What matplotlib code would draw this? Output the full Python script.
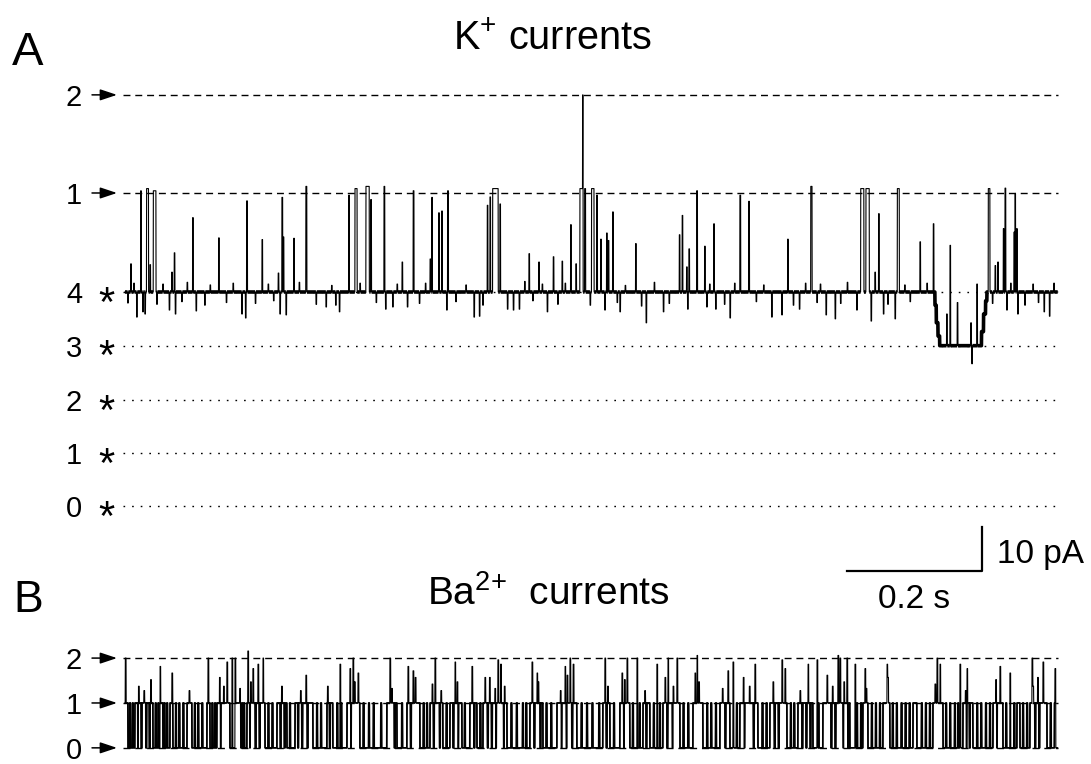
import numpy as np
import matplotlib
matplotlib.use("Agg")
import matplotlib.pyplot as plt

plt.rcParams['font.family'] = ['Liberation Sans', 'DejaVu Sans']
plt.rcParams['mathtext.fontset'] = 'custom'
plt.rcParams['mathtext.rm'] = 'Liberation Sans'
plt.rcParams['mathtext.it'] = 'Liberation Sans:italic'
plt.rcParams['mathtext.bf'] = 'Liberation Sans:bold'

# ─────────────────────────────────────────────
#  DATA  (time in ms, current in pA)
# ─────────────────────────────────────────────
T_END = 1382.0

# Panel A: K+ trace, baseline = level "4 *"
A_DASH_LEVELS = [44.8, 22.5]
A_DASH_LABELS = ["2", "1"]
A_DOT_LEVELS = [0.0, -12.2, -24.5, -36.6, -48.6]
A_DOT_LABELS = ["4", "3", "2", "1", "0"]

# sub-level (loss of one channel) near the end
A_SUB_T   = [1200.0, 1202.0, 1204.5, 1207.0, 1269.0, 1272.0, 1275.0]
A_SUB_DUR = [2.0, 2.5, 2.5, 62.0, 3.0, 3.0, 2.0]
A_SUB_AMP = [-3.0, -7.0, -10.0, -12.2, -9.0, -5.0, -2.0]

# openings (start, duration, amplitude)
A_OPEN_T = [8.4, 23.3, 32.1, 37.0, 41.9, 69.2, 73.0, 100.3, 138.8, 180.3,
            203.0, 227.1, 232.6, 234.5, 249.9, 268.1, 331.4, 340.7, 357.0, 364.0,
            383.7, 410.4, 427.1, 451.9, 454.4, 464.8, 469.2, 478.1, 536.7, 540.7,
            544.7, 555.6, 598.5, 612.9, 634.5, 647.4, 660.3, 668.1, 674.1, 678.0,
            681.0, 691.3, 698.8, 704.7, 713.6, 716.0, 722.5, 756.6, 821.2, 825.6,
            832.1, 835.6, 847.0, 858.8, 872.2, 911.1, 924.0, 981.8, 1015.9, 1089.9,
            1097.8, 1111.1, 1116.6, 1144.2, 1177.8, 1197.5, 1217.3, 1222.2, 1252.9, 1278.9,
            1288.9, 1292.9, 1301.2, 1303.7, 1317.0, 1318.5, 1321.0]
A_OPEN_DUR = [1, 1, 3.0, 1, 4.0, 1, 1, 1, 1, 1.2,
              1, 1, 1.2, 1, 1, 1.5, 1.2, 3.4, 4.9, 1.2,
              1.2, 1, 1.2, 1, 1.2, 1, 1, 1.2, 1, 1,
              8.3, 1, 1, 1, 1, 1, 1, 1, 4.4, 0.8,
              1.5, 3.8, 1.2, 1, 1, 1, 1, 1, 1, 1,
              1, 1, 1.2, 1, 1, 1.2, 1.2, 1, 2.0, 4.9,
              4.9, 1, 1, 3.0, 1, 1, 1, 1, 1, 2.5,
              1, 1, 1, 1.2, 1, 1, 1]
A_OPEN_AMP = [6.4, 23.0, 23.5, 6.2, 23.0, 4.5, 8.9, 16.9, 12.3, 20.7,
              11.9, 4.3, 21.5, 12.5, 12.2, 24.0, 22.0, 23.5, 24.0, 21.0,
              24.0, 6.8, 23.0, 7.5, 21.5, 18.0, 18.4, 23.0, 19.7, 21.6,
              23.5, 20.0, 8.7, 6.8, 8.0, 7.0, 15.3, 6.4, 23.5, 44.8,
              23.5, 23.5, 22.0, 12.0, 13.4, 11.7, 18.2, 11.0, 13.0, 17.4,
              5.7, 9.8, 23.0, 10.4, 15.5, 22.0, 20.6, 12.0, 24.0, 23.5,
              23.5, 4.5, 17.8, 23.5, 11.4, 15.5, -5.0, 10.6, -7.0, 23.5,
              6.0, 6.8, 14.4, 23.6, 13.6, 22.4, 14.4]

# brief downward deflections
A_DIP_T = [17.3, 26.2, 29.6, 65.6, 74.5, 105.2, 172.9, 178.5, 229.6, 238.5,
           297.8, 317.5, 386.0, 396.6, 418.2, 476.5, 517.0, 524.9, 566.4, 575.3,
           584.1, 625.6, 688.9, 710.7, 733.3, 771.9, 797.5, 833.5, 861.8, 875.1,
           896.3, 958.1, 972.9, 999.0, 1038.5, 1051.9, 1084.0, 1105.2, 1123.4, 1140.7,
           1254.4, 1306.2, 1322.5, 1361.5, 1369.4]
A_DIP_AMP = [-5.7, -4.5, -5.0, -4.1, -5.0, -4.3, -5.0, -5.9, -5.0, -5.2,
             -3.4, -4.5, -3.9, -3.4, -3.4, -4.1, -5.7, -5.5, -3.9, -4.1,
             -3.9, -4.5, -3.0, -4.1, -4.5, -7.0, -4.5, -3.9, -3.4, -3.9,
             -5.9, -5.7, -5.2, -3.9, -5.2, -6.1, -4.1, -6.6, -5.0, -6.1,
             -16.3, -4.1, -5.0, -4.5, -5.5]

# small baseline wiggles
A_WIG_T = [4, 13, 47, 56, 84, 92, 118, 126, 150, 160, 193, 212, 220, 258, 283, 306,
           312, 348, 372, 403, 436, 445, 490, 505, 530, 592, 604, 618, 641, 652, 729,
           741, 765, 784, 806, 866, 888, 903, 935, 946, 990, 1008, 1025, 1030, 1060,
           1070, 1130, 1155, 1163, 1188, 1233, 1262, 1285, 1312, 1333, 1345, 1353, 1376]
A_WIG_AMP = [-2.5, 2.0, -2.8, 1.8, -2.2, 2.2, -3.0, 1.6, -2.4, 2.0, -2.6, 1.8, -2.0,
             2.2, -2.8, 1.5, -3.0, 2.0, -2.4, 1.8, -2.6, 2.0, -2.2, 1.6, -3.0, 2.4,
             -2.0, 1.8, -2.8, 2.0, -2.4, 1.5, -3.2, 2.2, -2.6, 1.8, -2.8, 2.0, -2.2,
             1.6, -3.0, 2.0, -2.4, 1.8, -2.6, 2.2, -2.8, 1.6, -2.2, 2.0, -2.4, 1.8,
             -2.6, 2.0, -3.0, 1.8, -2.4, 2.0]

# Panel B: Ba2+ trace
B_UNIT = 10.2
B_LEVELS = [2, 1, 0]
B_LABELS = ["2", "1", "0"]
B_OPEN_START = [0, 14.8, 51.9, 66.7, 91.9, 121.5, 136.3, 163.0, 180.7, 225.2,
                251.9, 299.3, 328.9, 388.1, 417.8, 451.9, 481.5, 511.1, 530.4, 600.0,
                640.0, 708.1, 733.3, 767.4, 797.0, 841.5, 881.5, 911.1, 955.6, 997.0,
                1034.1, 1093.3, 1123.0, 1167.4, 1197.0, 1241.5, 1285.9, 1321.5, 1340.7]
B_OPEN_END = [4.4, 41.5, 56.3, 71.1, 99.3, 125.9, 155.6, 170.4, 207.4, 240.0,
              278.5, 308.1, 348.1, 403.0, 437.0, 471.1, 499.3, 521.5, 565.9, 619.3,
              669.6, 718.5, 748.1, 777.8, 822.2, 856.3, 896.3, 937.8, 980.7, 1019.3,
              1074.1, 1100.7, 1133.3, 1173.3, 1211.9, 1256.3, 1300.7, 1325.9, 1365.9]
# brief flickers (open -> closed or closed -> open)
B_FLICK = [7, 11, 19, 24, 31, 36, 45, 49, 58, 62, 75, 80, 86, 103, 108, 114, 129, 133,
           141, 146, 151, 173, 176, 185, 193, 199, 212, 218, 230, 236, 244, 256, 262,
           270, 284, 290, 303, 314, 320, 334, 340, 353, 361, 368, 379, 395, 399, 410,
           423, 430, 442, 447, 457, 466, 476, 486, 493, 503, 517, 526, 537, 543, 549,
           561, 572, 580, 589, 594, 606, 615, 624, 631, 646, 654, 662, 676, 684, 692,
           702, 713, 724, 739, 752, 762, 772, 783, 792, 803, 811, 827, 834, 850, 862,
           868, 875, 889, 906, 917, 925, 931, 944, 950, 962, 968, 986, 991, 1003, 1009,
           1015, 1027, 1040, 1046, 1052, 1064, 1071, 1084, 1090, 1106, 1112, 1118, 1137,
           1143, 1150, 1156, 1162, 1180, 1186, 1192, 1203, 1216, 1222, 1229, 1234, 1246,
           1251, 1262, 1268, 1275, 1281, 1291, 1305, 1311, 1317, 1330, 1336, 1348, 1354,
           1360, 1371, 1377]
B_FLICK_DUR = 1.2
# double openings (level 2)
B_DOUBLE_T = [0.5, 51.9, 69.6, 123, 151, 158.5, 163, 182, 189.6, 197, 204.4, 318.5,
              333.3, 337.8, 345.2, 392.6, 419.3, 426.7, 459.3, 488.9, 514, 533.3, 552.6,
              556.5, 603, 610.4, 651.9, 659.3, 664, 711.1, 736.3, 743.7, 758.5, 788.1,
              804.4, 817.8, 844.4, 847.4, 893.3, 900.7, 933.3, 973.3, 977.8, 1011.9,
              1025.2, 1056.3, 1059.3, 1069.6, 1081.5, 1096.3, 1128.9, 1203, 1207.4, 1237,
              1247.4, 1296.3, 1311.1, 1343.7, 1360, 1377.8]
B_DOUBLE_AMP = [20.4, 18.5, 17, 20.4, 19.5, 20.4, 20.4, 22, 18, 19, 20.4, 19,
                18, 20.4, 17, 20.4, 18.5, 17.5, 20.4, 19.5, 18.5, 16, 20,
                19, 19.5, 17, 18.5, 20.4, 19, 20.4, 17, 20.4, 20.4, 19,
                20.4, 20.4, 17, 21, 17.5, 19.5, 19, 20, 18, 19,
                20, 21, 20.4, 20.4, 19, 18, 19, 20.4, 19, 19,
                18, 18.5, 17, 20.4, 19.5, 18]
# partial openings above level 1
B_PART_T = [20, 28, 38, 95, 140, 146, 170, 186, 232, 260, 268, 300, 340, 395, 430,
            455, 468, 492, 540, 548, 562, 612, 645, 655, 715, 740, 770, 800, 812,
            850, 885, 916, 925, 960, 1000, 1040, 1048, 1065, 1098, 1130, 1200, 1245,
            1290, 1345, 1352]
B_PART_AMP = [14, 13, 15.5, 13, 16, 14, 13.5, 15, 14, 13, 16.5, 14, 15, 13.5, 16,
              14.5, 13, 15, 16, 13.5, 14, 15, 13, 16.5, 14, 15.5, 13, 16, 14,
              15, 13.5, 16, 14, 15, 13, 16.5, 14, 15, 13.5, 16, 14.5, 13,
              15.5, 14, 16]
B_SPIKE_DUR = 1.2

# scale bar
SCALE_T_MS = 200
SCALE_I_PA = 10

# ─────────────────────────────────────────────
#  LAYOUT (data coords of one axes over the figure)
# ─────────────────────────────────────────────
B_BASE = -103.6          # B trace offset
LBL_X = -63.7            # right edge of level numbers
ARR_X0, ARR_X1 = -48.9, -11.9
STAR_X = -27.4
LINE_X0 = -3.0
SCALE_X1, SCALE_Y0 = 1269.6, -63.4

DT = 0.25
t = np.arange(0, T_END, DT)


def put(y, start, dur, val):
    i0 = int(round(start / DT))
    i1 = max(i0 + 1, int(round((start + dur) / DT)))
    y[i0:i1] = val


# ── build trace A
yA = np.zeros_like(t)
for s, d, a in zip(A_SUB_T, A_SUB_DUR, A_SUB_AMP):
    put(yA, s, d, a)
baseA = yA.copy()
for s, a in zip(A_WIG_T, A_WIG_AMP):
    put(yA, s, 1.0, a)
for s, d, a in zip(A_OPEN_T, A_OPEN_DUR, A_OPEN_AMP):
    put(yA, s, d, a)
for s, a in zip(A_DIP_T, A_DIP_AMP):
    put(yA, s, 1.0, a)
bandA = np.where(yA == baseA, yA, np.nan)

# ── build trace B
state = np.zeros_like(t)
for s, e in zip(B_OPEN_START, B_OPEN_END):
    i0, i1 = int(round(s / DT)), int(round(e / DT))
    state[i0:i1] = 1
for f in B_FLICK:
    i0 = int(round(f / DT))
    i1 = int(round((f + B_FLICK_DUR) / DT))
    state[i0:i1] = 1 - state[i0:i1]
yB = state * B_UNIT
flatB = yB.copy()
for s, a in zip(B_PART_T + B_DOUBLE_T, B_PART_AMP + B_DOUBLE_AMP):
    put(yB, s, B_SPIKE_DUR, a)
bandB = np.where(yB == flatB, yB, np.nan)

# ─────────────────────────────────────────────
#  PLOT
# ─────────────────────────────────────────────
fig = plt.figure(figsize=(10.91, 7.64), dpi=100)
ax = fig.add_axes([0, 0, 1, 1])
ax.set_xlim(-185.2, 1431.1)
ax.set_ylim(-107.27, 66.36)
ax.axis('off')

DASH = (0, (5, 3.5))
DOT = (0, (1.2, 5))
arrow_kw = dict(arrowstyle='-|>,head_length=0.6,head_width=0.2', color='k',
                lw=1.1, mutation_scale=17, shrinkA=0, shrinkB=0)


def level_label(y, txt):
    ax.text(LBL_X, y, txt, ha='right', va='center_baseline', fontsize=21)


# panel A levels
for lvl, lab in zip(A_DASH_LEVELS, A_DASH_LABELS):
    ax.plot([LINE_X0, T_END], [lvl, lvl], color='k', lw=1.0, ls=DASH)
    level_label(lvl, lab)
    ax.annotate('', xy=(ARR_X1, lvl), xytext=(ARR_X0, lvl), arrowprops=arrow_kw)
for lvl, lab in zip(A_DOT_LEVELS, A_DOT_LABELS):
    ax.plot([LINE_X0, T_END], [lvl, lvl], color='k', lw=1.0, ls=DOT)
    level_label(lvl, lab)
    ax.text(STAR_X, lvl - 5.4, '*', ha='center', va='baseline', fontsize=30)

ax.plot(t, yA, color='k', lw=0.8)
ax.plot(t, bandA, color='k', lw=2.6, solid_capstyle='butt')

# panel B levels
for lvl, lab in zip(B_LEVELS, B_LABELS):
    y = B_BASE + lvl * B_UNIT
    ax.plot([LINE_X0, T_END], [y, y], color='k', lw=1.0, ls=DASH)
    level_label(y, lab)
    ax.annotate('', xy=(ARR_X1, y), xytext=(ARR_X0, y), arrowprops=arrow_kw)

ax.plot(t, yB + B_BASE, color='k', lw=0.8)
ax.plot(t, bandB + B_BASE, color='k', lw=1.2, solid_capstyle='butt')

# titles and panel letters
ax.text(-167.6, 51.6, 'A', fontsize=34, ha='left', va='baseline')
ax.text(-166.0, -72.7, 'B', fontsize=32, ha='left', va='baseline')
ax.text(633.0, 55.0, 'K$^{+}$ currents', fontsize=28.5, ha='center', va='baseline')
ax.text(627.4, -71.1, 'Ba$^{2{+}}$  currents', fontsize=28, ha='center', va='baseline')

# scale bar
ax.plot([SCALE_X1 - SCALE_T_MS, SCALE_X1, SCALE_X1],
        [SCALE_Y0, SCALE_Y0, SCALE_Y0 + SCALE_I_PA], color='k', lw=1.6)
ax.text(SCALE_X1 + 22, SCALE_Y0 + 1.8, f'{SCALE_I_PA} pA', fontsize=24,
        ha='left', va='baseline')
ax.text(SCALE_X1 - SCALE_T_MS / 2 - 1, SCALE_Y0 - 8.4, f'{SCALE_T_MS / 1000:.1f} s',
        fontsize=24, ha='center', va='baseline')

fig.savefig('out.png', dpi=100)
